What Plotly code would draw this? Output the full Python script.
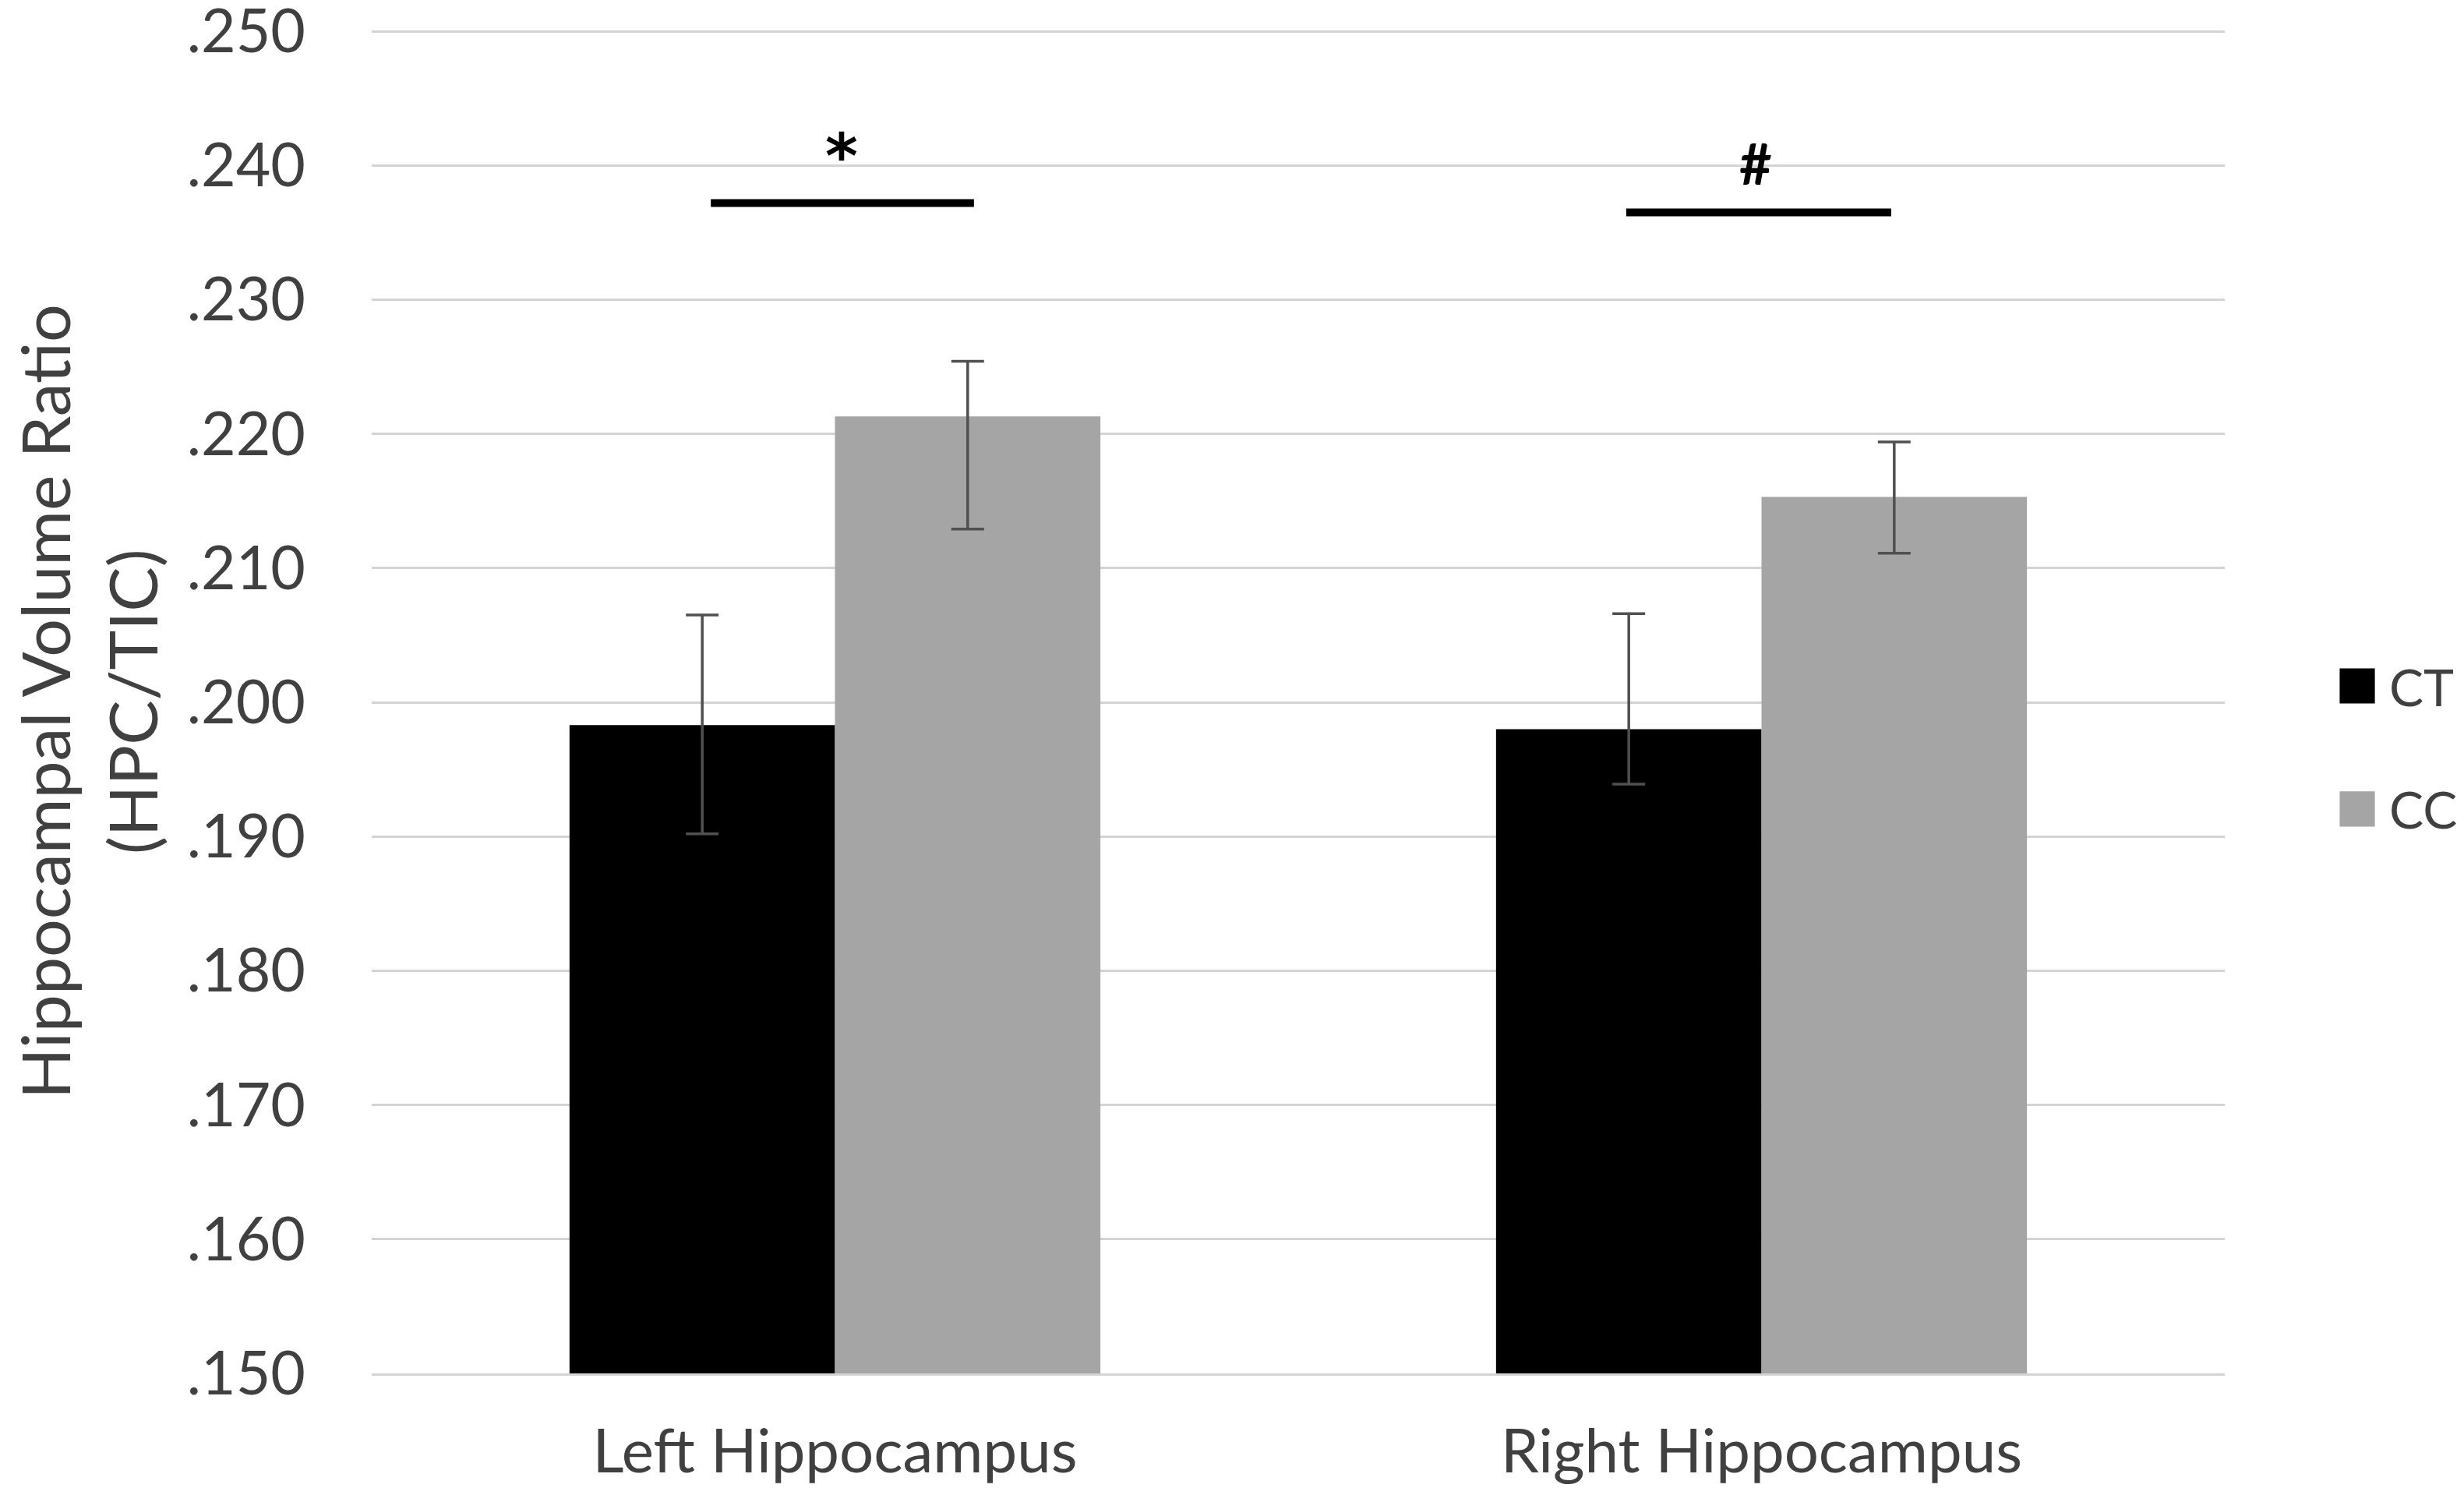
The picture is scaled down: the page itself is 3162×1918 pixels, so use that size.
import plotly.graph_objects as go

# ---- data ----
categories = ["Left Hippocampus", "Right Hippocampus"]
ct_values = [0.1983, 0.1980]
ct_err_plus = [0.0082, 0.0086]
ct_err_minus = [0.0081, 0.0041]
cc_values = [0.2213, 0.2153]
cc_err_plus = [0.0041, 0.0041]
cc_err_minus = [0.0084, 0.0042]
series_names = ["CT", "CC"]

y_tick_vals = [0.150, 0.160, 0.170, 0.180, 0.190, 0.200, 0.210, 0.220, 0.230, 0.240, 0.250]
y_tick_text = [".150", ".160", ".170", ".180", ".190", ".200", ".210", ".220", ".230", ".240", ".250"]

# significance brackets: category index, offsets from category centre, y level
sig_cat = [0, 1]
sig_off0 = [-0.134, -0.146]
sig_off1 = [0.150, 0.140]
sig_y = [0.2372, 0.2365]
sig_labels = ["*", "#"]
sig_label_off = [0.007, -0.006]
sig_label_y = [0.2407, 0.2402]

# ---- styles ----
FONT = "Lato"
TEXT_COLOR = "#404040"
colors = ["#000000", "#a5a5a5"]
ERR_COLOR = "#505050"
GRID = "#d4d4d4"

fig = go.Figure()
for name, vals, ep, em, col in [
    (series_names[0], ct_values, ct_err_plus, ct_err_minus, colors[0]),
    (series_names[1], cc_values, cc_err_plus, cc_err_minus, colors[1]),
]:
    fig.add_trace(go.Bar(
        x=categories, y=vals, name=name,
        marker=dict(color=col, line=dict(width=0)),
        error_y=dict(type="data", symmetric=False, array=ep, arrayminus=em,
                     color=ERR_COLOR, thickness=3.5, width=21),
        showlegend=False,
    ))

shapes = []
annotations = []
for c, o0, o1, y, lab, lo, ly in zip(sig_cat, sig_off0, sig_off1, sig_y, sig_labels,
                                     sig_label_off, sig_label_y):
    shapes.append(dict(type="line", xref="x", yref="y", x0=c + o0, x1=c + o1, y0=y, y1=y,
                       line=dict(color="#000000", width=10)))
    annotations.append(dict(xref="x", yref="y", x=c + lo, y=ly, text=f"<b>{lab}</b>",
                            showarrow=False, xanchor="center", yanchor="middle",
                            font=dict(family="DejaVu Sans" if lab == "*" else FONT,
                                      size=80 if lab == "*" else 72, color="#000000")))

# manual legend (large square swatches)
legend_y = [0.5116, 0.4200]
half_h = 0.0131
for name, col, yc in zip(series_names, colors, legend_y):
    shapes.append(dict(type="rect", xref="paper", yref="paper",
                       x0=1.0620, x1=1.0810, y0=yc - half_h, y1=yc + half_h,
                       fillcolor=col, line=dict(width=0)))
    annotations.append(dict(xref="paper", yref="paper", x=1.0880, y=yc, text=name,
                            showarrow=False, xanchor="left", yanchor="middle",
                            font=dict(family=FONT, size=66, color=TEXT_COLOR)))

# y-axis title
annotations.append(dict(xref="paper", yref="paper", x=-0.1535, y=0.5,
                        text="Hippocampal Volume Ratio<br>(HPC/TIC)", textangle=-90,
                        showarrow=False, xanchor="center", yanchor="middle",
                        font=dict(family=FONT, size=86, color=TEXT_COLOR)))

fig.update_layout(
    width=3146, height=1902,
    margin=dict(l=469, r=299, t=30, b=148),
    paper_bgcolor="white", plot_bgcolor="white",
    barmode="group", bargap=0.427, bargroupgap=0,
    font=dict(family=FONT, size=78, color=TEXT_COLOR),
    shapes=shapes, annotations=annotations,
    xaxis=dict(showgrid=False, showline=True, linecolor=GRID, linewidth=3,
               ticks="", tickfont=dict(family=FONT, size=78, color=TEXT_COLOR),
               ticklabelstandoff=30, automargin=False),
    yaxis=dict(range=[0.150, 0.2501161], tickvals=y_tick_vals, ticktext=y_tick_text,
               showgrid=True, gridcolor=GRID, gridwidth=3, zeroline=False,
               showline=False, ticks="", ticklabeloverflow="allow",
               tickfont=dict(family=FONT, size=77, color=TEXT_COLOR),
               ticklabelstandoff=84, automargin=False),
)

fig.write_html("out.html")
